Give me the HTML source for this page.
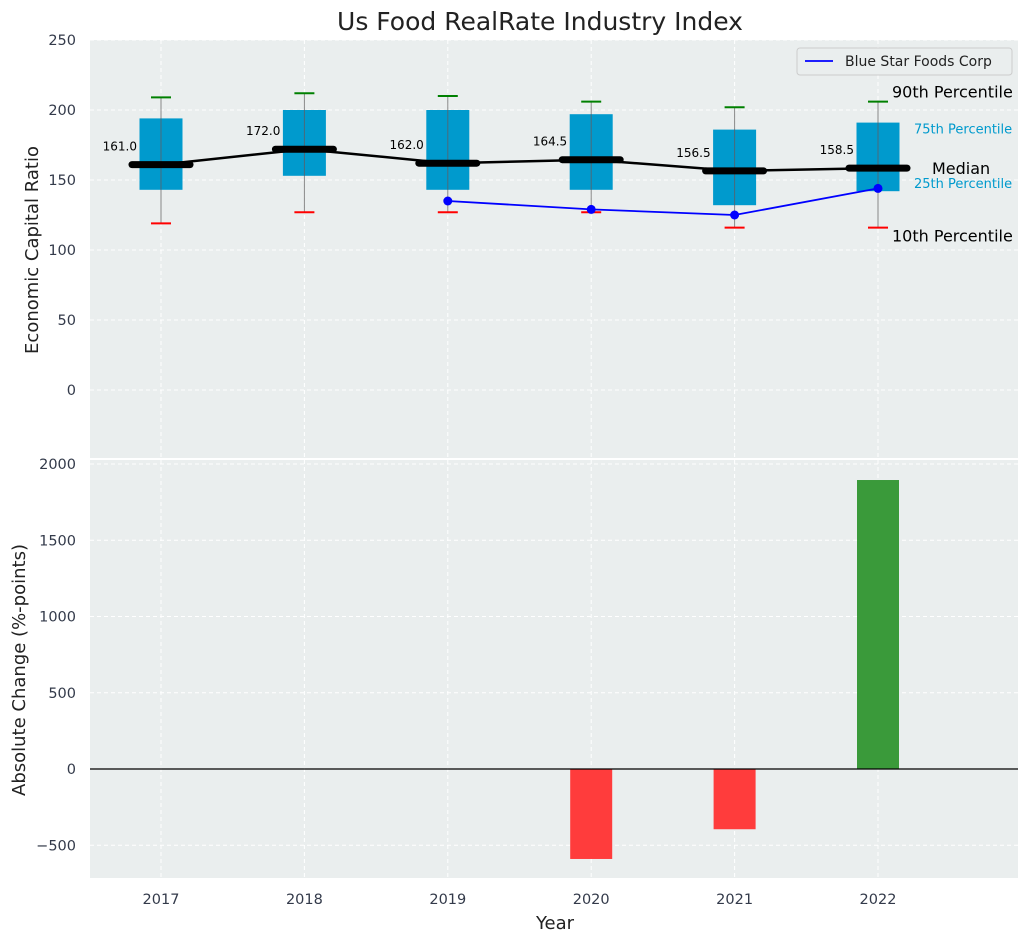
<!DOCTYPE html>
<html><head><meta charset="utf-8"><style>
body{margin:0;background:#fff;font-family:"Liberation Sans","DejaVu Sans",sans-serif;}
svg text{font-family:"DejaVu Sans","Liberation Sans",sans-serif;}
</style></head><body>
<svg id="c" width="1029" height="942" xmlns="http://www.w3.org/2000/svg"></svg>
<script>
const years=[2017,2018,2019,2020,2021,2022];
const p10=[119,127,127,127,116,116];
const p25=[143,153,143,143,132,142];
const medians=[161.0,172.0,162.0,164.5,156.5,158.5];
const p75=[194,200,200,197,186,191];
const p90=[209,212,210,206,202,206];
const companyYears=[2019,2020,2021,2022];
const companyValues=[135,129,125,144];
const changeYears=[2020,2021,2022];
const changeValues=[-590,-395,1895];
const topTicks=[0,50,100,150,200,250];
const botTicks=[-500,0,500,1000,1500,2000];

const svg=document.getElementById('c');
const NS='http://www.w3.org/2000/svg';
function el(t,a,txt){const e=document.createElementNS(NS,t);for(const k in a)e.setAttribute(k,a[k]);if(txt!==undefined)e.textContent=txt;svg.appendChild(e);return e;}
const L=90,R=1018;
const x=v=>161+(v-2017)*143.4;
const yT=v=>390-v*1.4;
const yB=v=>769-v*0.1525;

let e;
e=el('rect',{x:L,y:40,width:R-L,height:419,fill:'#eaeeee'});

e=el('rect',{x:L,y:459,width:R-L,height:419,fill:'#eaeeee'});

el('line',{x1:L,x2:R,y1:459,y2:459,stroke:'#fff','stroke-width':2});
e=el('text',{x:540,y:30,'text-anchor':'middle','font-size':25,fill:'#222'},'Us Food RealRate Industry Index');


years.forEach(v=>{
 el('line',{x1:x(v),x2:x(v),y1:40,y2:878,stroke:'#fff','stroke-dasharray':'4,3','stroke-width':1});
 e=el('text',{x:x(v),y:904,'text-anchor':'middle','font-size':14.5,fill:'#333a4a'},v);
 
});
topTicks.forEach(v=>{
 el('line',{x1:L,x2:R,y1:yT(v),y2:yT(v),stroke:'#fff','stroke-dasharray':'4,3'});
 e=el('text',{x:76,y:yT(v)+5,'text-anchor':'end','font-size':14.5,fill:'#333a4a'},v);
 
});
botTicks.forEach(v=>{
 el('line',{x1:L,x2:R,y1:yB(v),y2:yB(v),stroke:'#fff','stroke-dasharray':'4,3'});
 e=el('text',{x:76,y:yB(v)+5,'text-anchor':'end','font-size':14.5,fill:'#333a4a'},v<0?'\u2212'+(-v):v);
 
});
e=el('text',{x:38,y:250,'text-anchor':'middle','font-size':18,fill:'#222',transform:'rotate(-90 38 250)'},'Economic Capital Ratio');

e=el('text',{x:25,y:670,'text-anchor':'middle','font-size':18,fill:'#222',transform:'rotate(-90 25 670)'},'Absolute Change (%-points)');

e=el('text',{x:555,y:929,'text-anchor':'middle','font-size':18,fill:'#222'},'Year');


years.forEach((v,i)=>{
 const cx=x(v);
 el('line',{x1:cx,x2:cx,y1:yT(p10[i]),y2:yT(p90[i]),stroke:'#888','stroke-width':1});
 e=el('rect',{x:cx-21.5,y:yT(p75[i]),width:43,height:yT(p25[i])-yT(p75[i]),fill:'#009acd'});
 
 el('line',{x1:cx,x2:cx,y1:yT(p75[i]),y2:yT(p25[i]),stroke:'#4a6a7a','stroke-width':1});
 el('line',{x1:cx-10,x2:cx+10,y1:yT(p90[i]),y2:yT(p90[i]),stroke:'green','stroke-width':2});
 el('line',{x1:cx-10,x2:cx+10,y1:yT(p10[i]),y2:yT(p10[i]),stroke:'red','stroke-width':2});
 e=el('text',{x:cx-24,y:yT(medians[i])-14,'text-anchor':'end','font-size':12,fill:'#000'},medians[i].toFixed(1));
 
});
e=el('polyline',{points:years.map((v,i)=>x(v)+','+yT(medians[i])).join(' '),fill:'none',stroke:'#000','stroke-width':2.5});

years.forEach((v,i)=>{
 e=el('line',{x1:x(v)-29,x2:x(v)+29,y1:yT(medians[i]),y2:yT(medians[i]),stroke:'#000','stroke-width':7,'stroke-linecap':'round'});
 
});
e=el('polyline',{points:companyYears.map((v,i)=>x(v)+','+yT(companyValues[i])).join(' '),fill:'none',stroke:'#0000ff','stroke-width':1.8});

companyYears.forEach((v,i)=>{
 e=el('circle',{cx:x(v),cy:yT(companyValues[i]),r:4.5,fill:'#0000ff'});
 
});
const li=years.length-1;
[['90th Percentile',892,yT(p90[li])-4,16,'#000'],['75th Percentile',914,yT(p75[li])+11,13,'#009acd'],
 ['Median',932,yT(medians[li])+6,16,'#000'],['25th Percentile',914,yT(p25[li])-3,13,'#009acd'],
 ['10th Percentile',892,yT(p10[li])+14,16,'#000']].forEach(a=>{
 e=el('text',{x:a[1],y:a[2],'font-size':a[3],fill:a[4]},a[0]);
 
});
e=el('rect',{x:797,y:48,width:215,height:27,rx:3,fill:'#eaeeee',stroke:'#ccc'});

el('line',{x1:805,x2:833,y1:61,y2:61,stroke:'#0000ff','stroke-width':1.8});
e=el('text',{x:845,y:66,'font-size':14,fill:'#222'},'Blue Star Foods Corp');


changeYears.forEach((v,i)=>{
 const val=changeValues[i];
 e=el('rect',{x:x(v)-21,y:Math.min(yB(val),yB(0)),width:42,height:Math.abs(yB(val)-yB(0)),fill:val<0?'#ff3c3c':'#3a9a3a'});
 
});
el('line',{x1:L,x2:R,y1:yB(0),y2:yB(0),stroke:'#000','stroke-width':1.2});
</script>
</body></html>
